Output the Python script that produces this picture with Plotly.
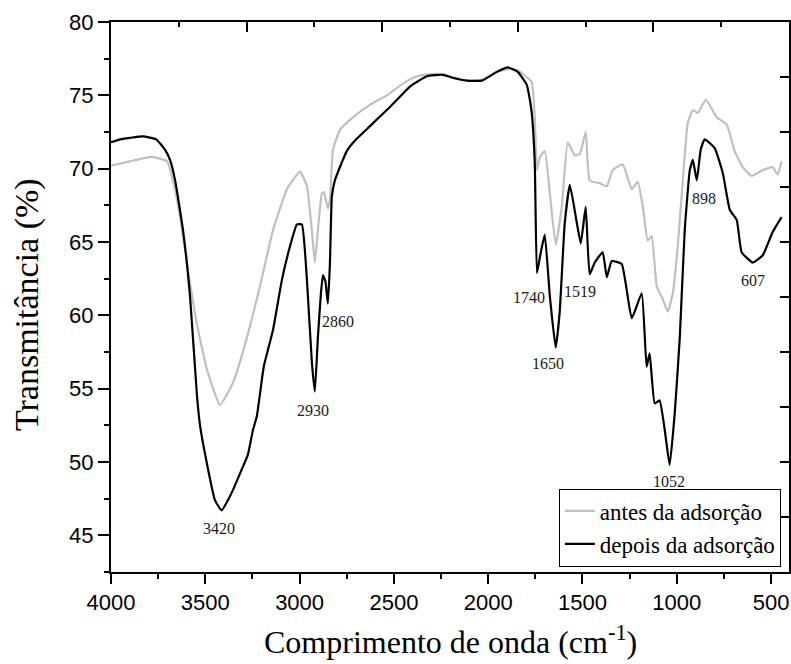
import plotly.graph_objects as go

# ---- data ----
wn_depois = [4000, 3950, 3900, 3830, 3760, 3714, 3687, 3660, 3618, 3581, 3544, 3528, 3493, 3449,
             3413, 3380, 3353, 3300, 3274, 3247, 3227, 3190, 3141, 3094, 3051, 3014, 2988, 2961,
             2935, 2919, 2903, 2887, 2876, 2863, 2850, 2839, 2829, 2813, 2780, 2750, 2700, 2627,
             2521, 2415, 2325, 2240, 2187, 2113, 2034, 1954, 1896, 1843, 1795, 1779, 1769, 1753,
             1742, 1735, 1721, 1700, 1673, 1642, 1621, 1594, 1567, 1530, 1509, 1483, 1462, 1435,
             1393, 1371, 1345, 1292, 1239, 1186, 1160, 1144, 1117, 1091, 1064, 1038, 1011, 984,
             958, 931, 915, 894, 873, 852, 799, 756, 719, 682, 656, 597, 544, 491, 444]
t_depois = [71.8, 72.0, 72.1, 72.2, 72.0, 71.3, 70.6, 69.2, 65.8, 61.3, 54.5, 52.5, 50.0, 47.4,
            46.7, 47.4, 48.1, 49.7, 50.5, 52.2, 53.1, 56.5, 59.0, 62.4, 64.7, 66.2, 66.2, 62.4,
            56.8, 54.8, 58.5, 61.5, 62.75, 62.3, 60.8, 63.6, 68.1, 69.2, 70.3, 71.2, 72.0, 72.9,
            74.2, 75.6, 76.3, 76.4, 76.2, 76.0, 76.0, 76.6, 76.9, 76.6, 75.7, 74.7, 73.8, 70.4,
            62.9, 63.3, 64.3, 65.5, 61.3, 57.8, 60.2, 66.3, 68.9, 66.3, 64.9, 67.4, 62.8, 63.6,
            64.3, 62.6, 63.7, 63.5, 59.8, 61.5, 56.5, 57.4, 54.0, 54.2, 52.2, 49.8, 53.3, 58.5,
            65.8, 69.9, 70.6, 69.2, 71.3, 72.0, 71.4, 69.7, 67.2, 66.5, 64.3, 63.6, 64.1, 65.7, 66.7]

wn_antes = [4000, 3900, 3783, 3703, 3661, 3634, 3592, 3546, 3491, 3422, 3353, 3279, 3210, 3141,
            3067, 2998, 2961, 2935, 2919, 2903, 2882, 2871, 2850, 2839, 2823, 2786, 2717, 2627,
            2537, 2452, 2378, 2300, 2240, 2187, 2113, 2034, 1954, 1885, 1843, 1800, 1769, 1753,
            1742, 1726, 1700, 1673, 1642, 1610, 1578, 1541, 1514, 1483, 1462, 1409, 1371, 1340,
            1287, 1239, 1207, 1180, 1154, 1133, 1106, 1074, 1048, 1021, 995, 968, 942, 915,
            889, 846, 788, 735, 693, 650, 603, 544, 491, 465, 444]
t_antes = [70.2, 70.5, 70.8, 70.5, 68.6, 66.7, 63.1, 59.5, 56.3, 53.9, 55.4, 58.5, 62.0, 65.8,
           68.6, 69.8, 68.8, 65.8, 63.6, 65.8, 68.3, 68.4, 67.3, 67.9, 71.3, 72.65, 73.5, 74.35,
           75.0, 75.8, 76.3, 76.45, 76.45, 76.2, 76.0, 76.05, 76.6, 76.8, 76.7, 76.3, 75.9, 73.5,
           69.9, 70.8, 71.2, 68.3, 64.8, 67.4, 71.8, 70.9, 71.0, 72.5, 69.2, 69.0, 68.8, 69.9,
           70.3, 68.6, 69.1, 67.4, 65.1, 65.4, 61.95, 61.1, 60.25, 61.5, 64.7, 69.2, 73.1, 74.0,
           73.8, 74.7, 73.5, 73.0, 71.2, 70.1, 69.5, 69.9, 70.1, 69.6, 70.5]

peak_labels = ["3420", "2930", "2860", "1740", "1519", "1650", "1052", "898", "607"]
peak_x = [3428, 2929, 2797, 1785, 1514, 1684, 1043, 857, 597]
peak_y = [45.45, 53.5, 59.55, 61.25, 61.65, 56.7, 48.65, 68.0, 62.35]

x_ticks = [4000, 3500, 3000, 2500, 2000, 1500, 1000, 500]
y_ticks = [45, 50, 55, 60, 65, 70, 75, 80]

SANS = "Liberation Sans, Arial, sans-serif"
SERIF = "Liberation Serif, Times New Roman, serif"

fig = go.Figure()
fig.add_trace(go.Scatter(x=wn_antes, y=t_antes, mode="lines", name="antes da adsorção",
                         line=dict(color="rgb(192,192,192)", width=2.2, shape="spline", smoothing=0.4)))
fig.add_trace(go.Scatter(x=wn_depois, y=t_depois, mode="lines", name="depois da adsorção",
                         line=dict(color="black", width=2.2, shape="spline", smoothing=0.4)))
# carrier for the inward ticks on top / right frame
fig.add_trace(go.Scatter(x=[None], y=[None], xaxis="x2", yaxis="y2", mode="lines",
                         showlegend=False, hoverinfo="skip"))

for lab, px, py in zip(peak_labels, peak_x, peak_y):
    fig.add_annotation(x=px, y=py, text=lab, showarrow=False,
                       font=dict(family=SERIF, size=16, color="#1a1a1a"))

fig.add_annotation(xref="paper", yref="paper", x=0.5, y=-0.124, text="Comprimento de onda (cm<sup>-1</sup>)",
                   showarrow=False, font=dict(family=SERIF, size=32, color="black"),
                   xanchor="center", yanchor="middle")
fig.add_annotation(xref="paper", yref="paper", x=-0.124, y=0.487, text="Transmitância (%)",
                   showarrow=False, textangle=-90, font=dict(family=SERIF, size=34, color="black"),
                   xanchor="center", yanchor="middle")

fig.update_layout(
    width=791, height=664,
    margin=dict(l=111, r=2, t=22, b=92, autoexpand=False),
    paper_bgcolor="white", plot_bgcolor="white",
    showlegend=True,
    legend=dict(x=0.988, y=0.01, xanchor="right", yanchor="bottom",
                bgcolor="white", bordercolor="black", borderwidth=1,
                font=dict(family=SERIF, size=23, color="black"), tracegroupgap=0),
    xaxis=dict(range=[4000, 405], tickvals=x_ticks, ticktext=[str(v) for v in x_ticks],
               ticks="outside", ticklen=10, tickwidth=2, tickcolor="black",
               minor=dict(dtick=250, tick0=0, ticks="outside", ticklen=5, tickwidth=2, tickcolor="black"),
               showline=True, linecolor="black", linewidth=2, mirror=True,
               showgrid=False, zeroline=False, automargin=False,
               tickfont=dict(family=SANS, size=22, color="black")),
    yaxis=dict(range=[42.5, 80], tickvals=y_ticks, ticktext=[str(v) for v in y_ticks],
               ticks="outside", ticklen=11, tickwidth=2, tickcolor="black",
               minor=dict(dtick=2.5, tick0=0, ticks="outside", ticklen=5, tickwidth=2, tickcolor="black"),
               showline=True, linecolor="black", linewidth=2, mirror=True,
               showgrid=False, zeroline=False, automargin=False,
               tickfont=dict(family=SANS, size=22, color="black")),
    xaxis2=dict(overlaying="x", side="top", range=[0, 10], tickvals=[0, 2, 4, 6, 8, 10],
                ticks="inside", ticklen=10, tickwidth=2, tickcolor="black",
                minor=dict(dtick=1, ticks="inside", ticklen=5, tickwidth=2, tickcolor="black"),
                showticklabels=False, showgrid=False, zeroline=False, showline=False, automargin=False),
    yaxis2=dict(overlaying="y", side="right", range=[0, 10], dtick=1,
                ticks="inside", ticklen=9, tickwidth=2, tickcolor="black",
                showticklabels=False, showgrid=False, zeroline=False, showline=False, automargin=False),
)

fig.write_html("out.html", config={"displayModeBar": False, "staticPlot": True})

# remove the browser's default 8px body margin so the figure sits at the window origin
with open("out.html", "r", encoding="utf-8") as f:
    html = f.read()
html = html.replace("<head>", "<head><style>html,body{margin:0;padding:0;overflow:hidden;}</style>", 1)
with open("out.html", "w", encoding="utf-8") as f:
    f.write(html)
